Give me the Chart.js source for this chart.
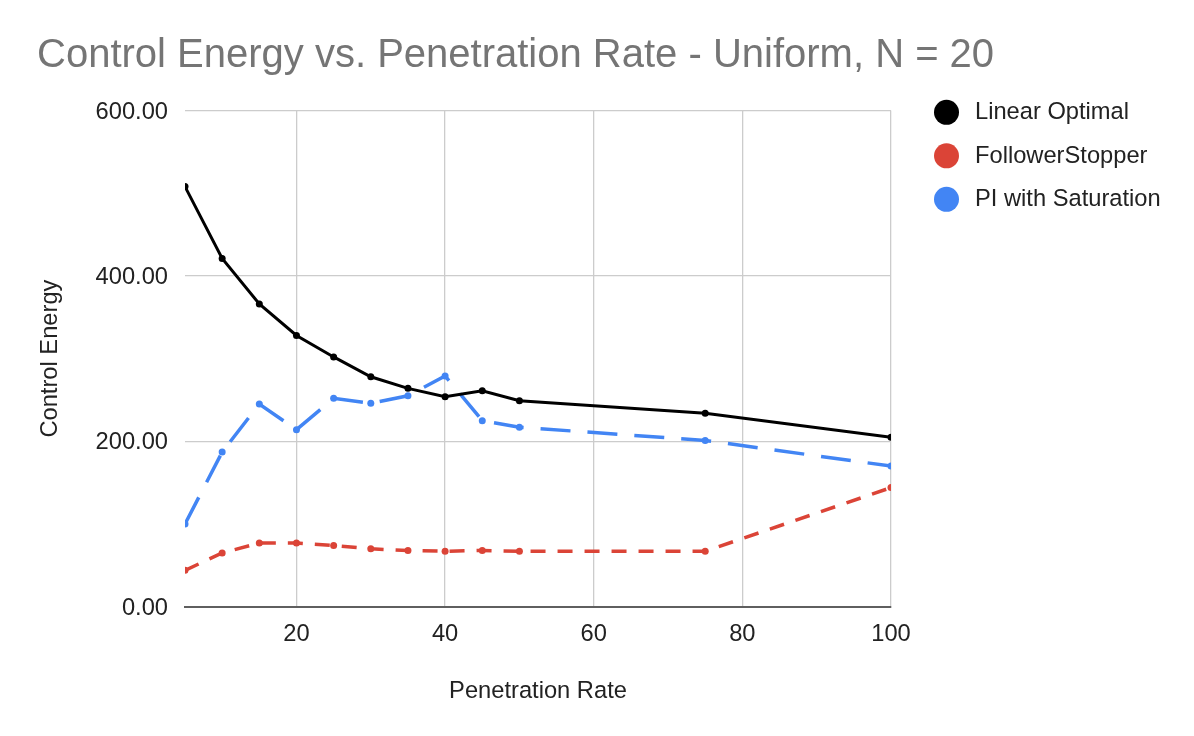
<!DOCTYPE html>
<html>
<head>
<meta charset="utf-8">
<title>Control Energy vs. Penetration Rate</title>
<script src="https://cdn.jsdelivr.net/npm/chart.js@4.4.1/dist/chart.umd.min.js"></script>
<style>
  html, body { margin: 0; padding: 0; background: #fff; }
  #wrap { width: 1194px; height: 736px; }
</style>
</head>
<body>
<div id="wrap"><canvas id="chart" width="1194" height="736"></canvas></div>
<script>
// Data
const penetrationRate = [5, 10, 15, 20, 25, 30, 35, 40, 45, 50, 75, 100];
const linearOptimal = [508, 421, 366, 328, 302, 278, 264, 254, 261, 249, 234, 205];
const followerStopper = [44, 65, 77, 77, 74, 70, 68, 67, 68, 67, 67, 144];
const piSaturation = [100, 187, 245, 214, 252, 246, 255, 279, 225, 217, 201, 170];
const seriesNames = ['Linear Optimal', 'FollowerStopper', 'PI with Saturation'];
const xTicks = [20, 40, 60, 80, 100];
const yTicks = [0, 200, 400, 600];

const FONT = "'Liberation Sans', Arial, Helvetica, sans-serif";
const TEXT = '#222222';

function toPoints(values) {
  return penetrationRate.map((x, i) => ({ x: x, y: values[i] }));
}

// Title and legend are drawn here, the plot itself by Chart.js
const chromePlugin = {
  id: 'chrome',
  afterDraw(chart) {
    const ctx = chart.ctx;
    ctx.save();
    ctx.font = '40px ' + FONT;
    ctx.fillStyle = '#757575';
    ctx.textBaseline = 'alphabetic';
    ctx.textAlign = 'left';
    ctx.fillText('Control Energy vs. Penetration Rate - Uniform, N = 20', 37, 67);

    ctx.font = '23.7px ' + FONT;
    chart.data.datasets.forEach((ds, i) => {
      const cy = 112.3 + i * 43.5;
      ctx.beginPath();
      ctx.arc(946.5, cy, 12.5, 0, Math.PI * 2);
      ctx.fillStyle = ds.borderColor;
      ctx.fill();
      ctx.fillStyle = TEXT;
      ctx.fillText(ds.label, 975, cy + 7);
    });
    ctx.restore();
  }
};

const ctx = document.getElementById('chart').getContext('2d');
const chart = new Chart(ctx, {
  type: 'line',
  data: {
    datasets: [
      {
        label: seriesNames[0],
        data: toPoints(linearOptimal),
        borderColor: '#000000',
        backgroundColor: '#000000',
        borderWidth: 3,
        pointRadius: 3.5,
        pointBorderWidth: 0,
        tension: 0
      },
      {
        label: seriesNames[1],
        data: toPoints(followerStopper),
        borderColor: '#db4437',
        backgroundColor: '#db4437',
        borderWidth: 3.5,
        borderDash: [15, 12],
        pointRadius: 3.5,
        pointBorderWidth: 0,
        tension: 0
      },
      {
        label: seriesNames[2],
        data: toPoints(piSaturation),
        borderColor: '#4285f4',
        backgroundColor: '#4285f4',
        borderWidth: 3.5,
        borderDash: [30, 17],
        pointRadius: 3.5,
        pointBorderWidth: 0,
        tension: 0
      }
    ]
  },
  options: {
    responsive: false,
    animation: false,
    layout: { padding: { left: 36, top: 110.5, right: 303, bottom: 0 } },
    plugins: {
      legend: { display: false },
      title: { display: false },
      tooltip: { enabled: false }
    },
    scales: {
      x: {
        type: 'linear',
        min: 5,
        max: 100,
        afterBuildTicks: (axis) => { axis.ticks = xTicks.map(v => ({ value: v })); },
        afterFit: (axis) => { axis.height = 129.3; },
        ticks: { color: TEXT, font: { family: FONT, size: 23.7 }, padding: 14, maxRotation: 0 },
        grid: { color: '#cccccc', lineWidth: 1.3, drawTicks: false },
        border: { display: true, color: '#5f5f5f', width: 2 },
        title: {
          display: true,
          text: 'Penetration Rate',
          color: TEXT,
          font: { family: FONT, size: 23.7 },
          padding: { top: 0, bottom: 30 }
        }
      },
      y: {
        min: 0,
        max: 600,
        afterBuildTicks: (axis) => { axis.ticks = yTicks.map(v => ({ value: v })); },
        afterFit: (axis) => { axis.width = 149; },
        ticks: {
          color: TEXT,
          font: { family: FONT, size: 23.7 },
          padding: 17,
          labelOffset: 1.5,
          callback: (v) => Number(v).toFixed(2)
        },
        grid: { color: '#cccccc', lineWidth: 1.3, drawTicks: false },
        border: { display: false },
        title: {
          display: true,
          text: 'Control Energy',
          color: TEXT,
          font: { family: FONT, size: 23.7 },
          padding: { top: 0, bottom: 0 }
        }
      }
    }
  },
  plugins: [chromePlugin]
});
</script>
</body>
</html>
